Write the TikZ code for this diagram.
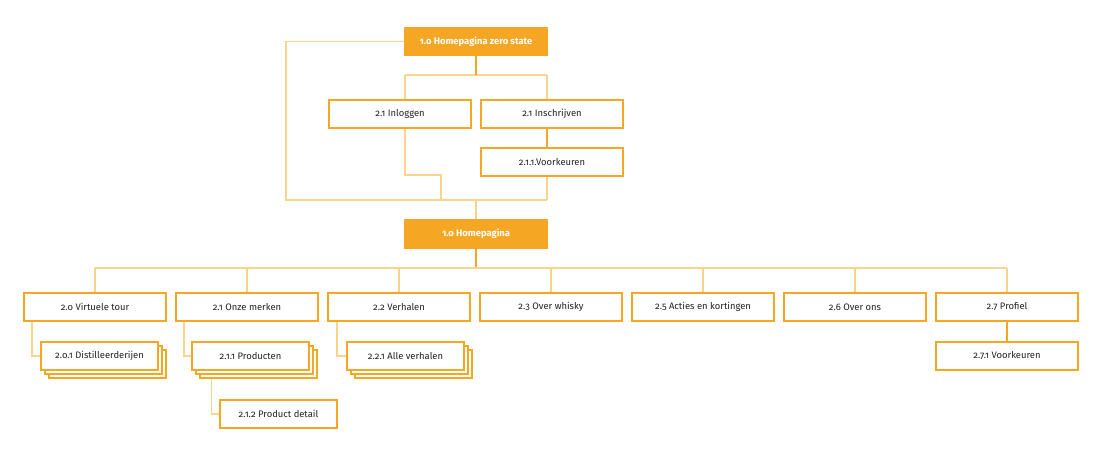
\documentclass[tikz,border=0pt]{standalone}
\usepackage{fontspec}
\setmainfont{Fira Sans}[Numbers=OldStyle]
\usetikzlibrary{positioning}
\usetikzlibrary{calc}
\definecolor{orange}{RGB}{245,166,35}
\definecolor{paleorange}{RGB}{250,211,140}
\definecolor{textgrey}{RGB}{35,35,35}

\begin{document}
\begin{tikzpicture}[x=1pt, y=-1pt,
  page/.style={draw=orange, line width=1.1pt, fill=white, inner sep=0pt,
               minimum width=142pt, minimum height=28pt,
               font=\fontsize{9.4}{11}\selectfont, text=textgrey},
  subpage/.style={page, minimum width=117pt},
  mainpage/.style={page, fill=orange, text=white, font=\fontsize{9.4}{11}\selectfont\bfseries},
  link/.style={draw=orange, line width=1.1pt},
  flow/.style={draw=paleorange, line width=1.8pt}]

\useasboundingbox (0,0) rectangle (1105,458);

%---------------------------------------
% Top: entry and login
%---------------------------------------
\def\Ltop{41.5}
\def\Lrow{114}

\node[mainpage] (zero) at (476,\Ltop) {1.o Homepagina zero state};
\node[page] (inlog)  at (400,\Lrow) {2.1 Inloggen};
\node[page] (inschr) at (552,\Lrow) {2.1 Inschrijven};
\node[page] (voork)  at (552,162)   {2.1.1.Voorkeuren};
\node[mainpage] (home) at (476,234) {1.o Homepagina};

\coordinate (zbar)  at (476,75);
\coordinate (zbarL) at (405,75);
\coordinate (zbarR) at (547,75);
\coordinate (loop)  at (286,200);
\coordinate (join)  at (476,200);
\coordinate (joinL) at (441,200);
\coordinate (joinR) at (547,200);

% Connectors
\draw[flow] (zbarL) -- (zbarR);
\draw[flow] (zbarL) -- (zbarL |- inlog.north);
\draw[flow] (zbarR) -- (zbarR |- inschr.north);
\draw[link] (zero.south) -- (zbar);
\draw[link] (inschr.south -| zbarR) -- (voork.north -| zbarR);
\draw[flow] (inlog.south -| zbarL) |- ($(joinL)+(0,-25)$) -- (joinL);
\draw[flow] (voork.south -| zbarR) -- (joinR);
\draw[flow] (zero.west) -| (loop) -- (joinR);
\draw[flow] (join) -- (home.north);

%---------------------------------------
% Main menu
%---------------------------------------
\def\Lmenu{307}
\def\Lsub{356}

\node[page] (tour)    at (95,\Lmenu)  {2.o Virtuele tour};
\node[page] (merken)  at (247,\Lmenu) {2.1 Onze merken};
\node[page] (verhaal) at (399,\Lmenu) {2.2 Verhalen};
\node[page] (whisky)  at (551,\Lmenu) {2.3 Over whisky};
\node[page] (acties)  at (703,\Lmenu) {2.5 Acties en kortingen};
\node[page] (overons) at (855,\Lmenu) {2.6 Over ons};
\node[page] (profiel) at (1007,\Lmenu) {2.7 Profiel};

\coordinate (mbar)  at (476,268);
\coordinate (mbarL) at (95,268);
\coordinate (mbarR) at (1007,268);

\draw[link] (home.south) -- (mbar);
\draw[flow] (mbarL) -- (mbarR);
\foreach \n in {tour,merken,verhaal,whisky,acties,overons,profiel}
  \draw[flow] (\n.north |- mbar) -- (\n.north);

%---------------------------------------
% Sub pages (stacked = list of pages)
%---------------------------------------
\node[subpage] (dist3) at (107.5,\Lsub+8) {};
\node[subpage] (dist2) at (103.5,\Lsub+4) {};
\node[subpage] (dist)  at (99.5,\Lsub)    {2.o.1 Distilleerderijen};

\node[subpage] (prod3) at (258.5,\Lsub+8) {};
\node[subpage] (prod2) at (254.5,\Lsub+4) {};
\node[subpage] (prod)  at (250.5,\Lsub)   {2.1.1 Producten};

\node[subpage] (alle3) at (413.5,\Lsub+8) {};
\node[subpage] (alle2) at (409.5,\Lsub+4) {};
\node[subpage] (alle)  at (405.5,\Lsub)   {2.2.1 Alle verhalen};

\node[subpage] (detail) at (278.5,414) {2.1.2 Product detail};
\node[page] (pvoork) at (1007,\Lsub) {2.7.1 Voorkeuren};

\draw[flow] ($(tour.south west)+(8.5,0)$) |- (dist.west);
\draw[flow] ($(merken.south west)+(8.5,0)$) |- (prod.west);
\draw[flow] ($(verhaal.south west)+(9.5,0)$) |- (alle.west);
\draw[flow] ($(prod3.south west)+(12,0)$) |- (detail.west);
\draw[link] (profiel.south) -- (pvoork.north);

\end{tikzpicture}
\end{document}
